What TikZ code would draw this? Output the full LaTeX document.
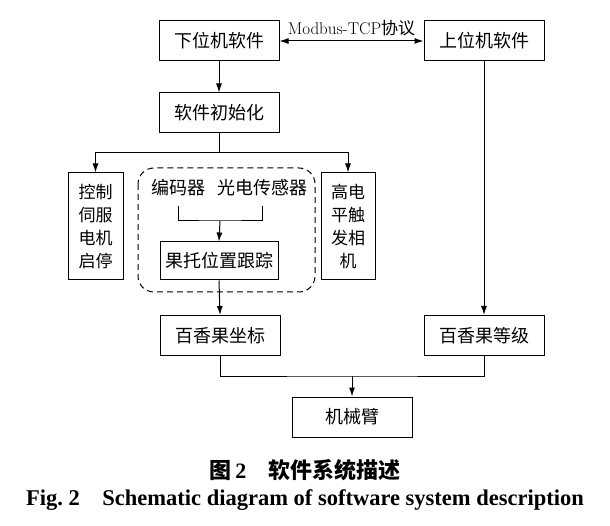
\documentclass[tikz,border=0pt]{standalone}
\usepackage{fontspec}
\usetikzlibrary{arrows.meta}
\newfontfamily\cjk{Noto Sans CJK SC}
\newfontfamily\timesfont{Liberation Serif}
\tikzset{
	box/.style={draw,line width=1pt,minimum width=120pt,minimum height=40pt,inner sep=1pt,font=\cjk\fontsize{18}{18}\selectfont},
	tallbox/.style={draw,line width=1pt,minimum width=55pt,minimum height=107pt,inner sep=1pt,align=center,font=\cjk\fontsize{17}{23}\selectfont},
	dashbox/.style={draw,line width=1pt,dash pattern=on 6pt off 4pt,rounded corners=16pt},
	arr/.style={line width=1pt,-{Latex[length=9pt,width=6pt]}},
	lin/.style={line width=1pt}
}
\begin{document}
\begin{tikzpicture}[x=1pt,y=-1pt]
	\useasboundingbox[fill=white] (0,0) rectangle (610,526);
	\node[box] (slave) at (219,41) {下位机软件};
	\node[box] (host) at (484,41) {上位机软件};
	\node[box] (init) at (219,113) {软件初始化};
	\node[tallbox] (servo) at (95.5,226.5) {控制\\伺服\\电机\\启停};
	\node[tallbox,minimum width=54pt] (cam) at (348,226.5) {高电\\平触\\发相\\机};
	\draw[dashbox] (138,168) rectangle (315,292);
	\node[font=\cjk\fontsize{18}{18}\selectfont] (enc) at (178,188) {编码器};
	\node[font=\cjk\fontsize{18}{18}\selectfont] (photo) at (262,188) {光电传感器};
	\node[box,minimum width=118pt,minimum height=38pt] (track) at (219,261) {果托位置跟踪};
	\node[box] (coord) at (220,335.5) {百香果坐标};
	\node[box] (grade) at (484,335.5) {百香果等级};
	\node[box] (arm) at (352,417) {机械臂};
	\coordinate (split) at (219,153);
	\coordinate (join) at (220,221);
	\coordinate (merge) at (352,376);
	% connectors
	\draw[line width=1pt,{Latex[length=9pt,width=6pt]}-{Latex[length=9pt,width=6pt]}] (slave) -- node[above=1pt,font=\fontsize{17}{17}\selectfont]{Modbus-TCP\cjk 协议} (host);
	\draw[arr] (slave) -- (init);
	\draw[arr] (init.south) -- (split) -| (servo.north);
	\draw[arr] (split) -| (cam.north);
	\draw[lin] ([yshift=-6pt]enc.south) |- (join) -| ([yshift=-6pt]photo.south);
	\draw[arr] (join) -- (track.north);
	\draw[arr] (track.south) -- (coord.north);
	\draw[arr] (host.south -| grade.north) -- (grade.north);
	\draw[lin] (coord.south) |- (merge) -| (grade.south);
	\draw[arr] (merge) -- (arm.north);
	% caption
	\node[font=\fontsize{22}{22}\selectfont] (cap) at (305,470) {{\cjk\bfseries 图}\,{\timesfont\bfseries 2}\hspace{1em}{\cjk\bfseries 软件系统描述}};
	\node[font=\timesfont\bfseries\fontsize{22.5}{22.5}\selectfont] (capen) at (305,500) {Fig.~2\hspace{1em}Schematic diagram of software system description};
\end{tikzpicture}
\end{document}
